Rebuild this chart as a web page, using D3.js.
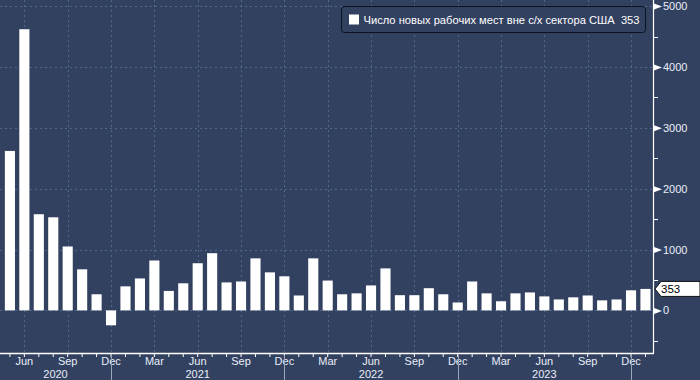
<!DOCTYPE html>
<html><head><meta charset="utf-8">
<script src="https://cdn.jsdelivr.net/npm/d3@7"></script>
<style>html,body{margin:0;padding:0;background:#334161;}svg{display:block;}</style>
</head><body>
<svg id="c" width="700" height="380"></svg>
<script>
const months = [
 "2020-05","2020-06","2020-07","2020-08","2020-09","2020-10","2020-11","2020-12",
 "2021-01","2021-02","2021-03","2021-04","2021-05","2021-06","2021-07","2021-08","2021-09","2021-10","2021-11","2021-12",
 "2022-01","2022-02","2022-03","2022-04","2022-05","2022-06","2022-07","2022-08","2022-09","2022-10","2022-11","2022-12",
 "2023-01","2023-02","2023-03","2023-04","2023-05","2023-06","2023-07","2023-08","2023-09","2023-10","2023-11","2023-12",
 "2024-01"];
const values = [
 2620,4620,1580,1530,1050,675,265,-245,
 395,525,820,320,445,775,940,460,475,855,625,560,
 245,855,490,265,280,410,690,250,250,365,265,130,
 475,280,150,280,295,230,180,215,245,165,180,330,
 353];
const monthNames = {"03":"Mar","06":"Jun","09":"Sep","12":"Dec"};
const yearLabels = ["2020","2021","2022","2023"];
const yTicks = [0,1000,2000,3000,4000,5000];
const yMinorTicks = [-500,500,1500,2500,3500,4500];
const legendText = "Число новых рабочих мест вне с/х сектора США  353";
const lastValue = 353;

const W=700,H=380, plotR=654, plotB=353;
const bg="#334161", grid="#51668b";
const svg=d3.select("#c");
svg.append("rect").attr("width",W).attr("height",H).attr("fill",bg);

const x=d3.scaleBand().domain(months).range([2.7,652.7]).paddingInner(0.3).paddingOuter(0.15);
const y=d3.scaleLinear().domain([-700,5100]).range([plotB,0]);
const cx=m=>x(m)+x.bandwidth()/2;
const font="'Liberation Sans', Arial, sans-serif";

const quarterly=months.filter(m=>monthNames[m.slice(5)]);
// grid
svg.append("g").selectAll("line").data(yTicks).join("line")
  .attr("x1",0).attr("x2",plotR).attr("y1",d=>Math.round(y(d))+0.5).attr("y2",d=>Math.round(y(d))+0.5)
  .attr("stroke",grid).attr("stroke-dasharray","2,3");
svg.append("g").selectAll("line").data(quarterly).join("line")
  .attr("x1",d=>Math.round(cx(d))+0.5).attr("x2",d=>Math.round(cx(d))+0.5).attr("y1",0).attr("y2",plotB)
  .attr("stroke",grid).attr("stroke-dasharray","2,3");

// bars
svg.append("g").selectAll("rect").data(months).join("rect")
  .attr("x",d=>x(d)).attr("width",x.bandwidth())
  .attr("y",(d,i)=>y(Math.max(0,values[i])))
  .attr("height",(d,i)=>Math.abs(y(values[i])-y(0)))
  .attr("fill","#ffffff");

// x axis
const xa=svg.append("g").attr("transform",`translate(0,${plotB})`);
xa.call(d3.axisBottom(x).tickSize(4).tickFormat(m=>monthNames[m.slice(5)]||""));
xa.select(".domain").remove();
xa.selectAll(".tick line").attr("stroke","#ffffff");
xa.selectAll(".tick text").attr("fill","#e8eef8").attr("font-family",font).attr("font-size",11).attr("dy",0).attr("y",12);
svg.append("line").attr("x1",0).attr("x2",plotR).attr("y1",plotB+0.5).attr("y2",plotB+0.5).attr("stroke","#fff").attr("stroke-width",1.5);
// year separators
const decs=months.filter(m=>m.slice(5)==="12");
svg.append("g").selectAll("line").data(decs).join("line")
  .attr("x1",d=>Math.round(cx(d))+0.5).attr("x2",d=>Math.round(cx(d))+0.5).attr("y1",plotB+2).attr("y2",H)
  .attr("stroke","#9aa4b8");
const bounds=[0,...decs.map(cx)];
svg.append("g").selectAll("text").data(yearLabels).join("text")
  .attr("x",(d,i)=>(bounds[i]+bounds[i+1])/2).attr("y",377.5).attr("text-anchor","middle")
  .attr("fill","#e8eef8").attr("font-family",font).attr("font-size",11).text(d=>d);

// y axis
svg.append("line").attr("x1",plotR-0.5).attr("x2",plotR-0.5).attr("y1",0).attr("y2",plotB).attr("stroke","#fff").attr("stroke-width",1.2);
const ya=svg.append("g").attr("transform",`translate(${plotR},0)`);
ya.call(d3.axisRight(y).tickValues(yTicks).tickSize(0).tickPadding(9).tickFormat(d3.format("d")));
ya.select(".domain").remove();
ya.selectAll(".tick text").attr("fill","#e8eef8").attr("font-family",font).attr("font-size",11);
ya.selectAll(".tick").append("path").attr("d","M0,-3L8,0L0,3Z").attr("fill","#fff");
svg.append("g").selectAll("line").data(yMinorTicks).join("line")
  .attr("x1",plotR).attr("x2",plotR+4).attr("y1",d=>Math.round(y(d))+0.5).attr("y2",d=>Math.round(y(d))+0.5)
  .attr("stroke","#fff");

// last value label
const ly=y(lastValue);
svg.append("path").attr("d",`M${plotR+1},${ly}L${plotR+7},${ly-7.5}L${W},${ly-7.5}L${W},${ly+7.5}L${plotR+7},${ly+7.5}Z`)
  .attr("fill","#fff").attr("stroke","#111");
svg.append("text").attr("x",plotR+7).attr("y",ly).attr("dominant-baseline","central")
  .attr("fill","#000").attr("font-family",font).attr("font-size",11.5).text(lastValue);

// legend
svg.append("rect").attr("x",341.5).attr("y",6.5).attr("width",304).attr("height",26).attr("rx",3)
  .attr("fill",bg).attr("stroke","#0d1220");
svg.append("rect").attr("x",349).attr("y",14.5).attr("width",10).attr("height",10).attr("fill","#fff");
svg.append("text").attr("x",363.5).attr("y",24).attr("fill","#fff").attr("font-family",font).attr("font-size",11.5)
  .style("white-space","pre").attr("xml:space","preserve")
  .attr("textLength",276).attr("lengthAdjust","spacingAndGlyphs").text(legendText);
</script>
</body></html>
